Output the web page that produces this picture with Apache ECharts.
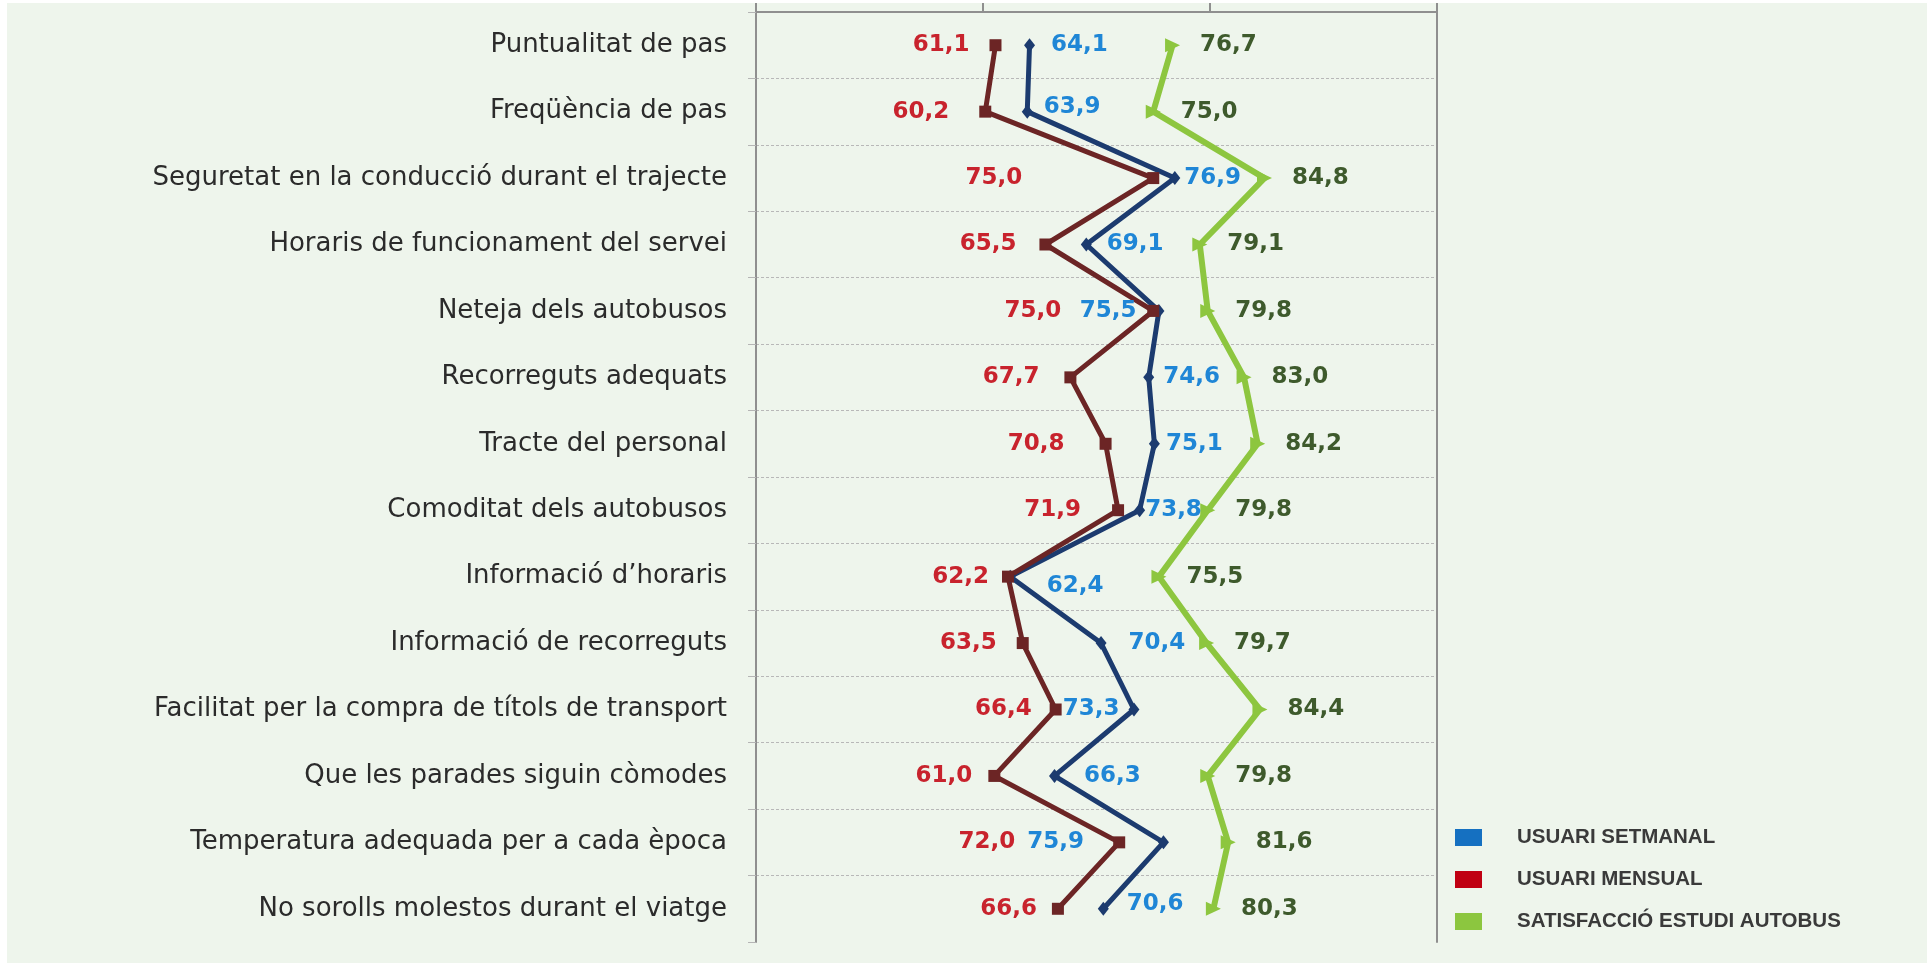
<!DOCTYPE html>
<html>
<head>
<meta charset="utf-8">
<script src="https://cdn.jsdelivr.net/npm/echarts@6.0.0/dist/echarts.min.js"></script>
<style>
    html, body { margin: 0; padding: 0; background: #ffffff; }
    #chart {
        position: absolute;
        left: 7px;
        top: 3px;
        width: 1920px;
        height: 960px;
        background: #eef5ec;
    }
</style>
</head>
<body>
<div id="chart"></div>
<script>
    // categories, top to bottom
    var categories = [
        'Puntualitat de pas',
        'Freqüència de pas',
        'Seguretat en la conducció durant el trajecte',
        'Horaris de funcionament del servei',
        'Neteja dels autobusos',
        'Recorreguts adequats',
        'Tracte del personal',
        'Comoditat dels autobusos',
        'Informació d’horaris',
        'Informació de recorreguts',
        'Facilitat per la compra de títols de transport',
        'Que les parades siguin còmodes',
        'Temperatura adequada per a cada època',
        'No sorolls molestos durant el viatge'
    ];
    var setmanal = [64.1, 63.9, 76.9, 69.1, 75.5, 74.6, 75.1, 73.8, 62.4, 70.4, 73.3, 66.3, 75.9, 70.6];
    var mensual = [61.1, 60.2, 75.0, 65.5, 75.0, 67.7, 70.8, 71.9, 62.2, 63.5, 66.4, 61.0, 72.0, 66.6];
    var estudi = [76.7, 75.0, 84.8, 79.1, 79.8, 83.0, 84.2, 79.8, 75.5, 79.7, 84.4, 79.8, 81.6, 80.3];
    var xTicks = [40, 60, 80, 100];

    // label placement (style only): gap from marker, negative = left side
    var mensualGap = [-20, -30, -125, -23, -86, -25, -35, -31, -13, -20, -18, -16, -98, -15];
    var setmanalGap = [16, 11, 4, 15, -17, 9, 6, 0, 31, 22, -9, 24, -74, 18];
    var setmanalDy = [0, -5, 0, 0, 0, 0, 0, 0, 9, 0, 0, 0, 0, -5];

    function fmt(p) {
        return p.value.toFixed(1).replace('.', ',');
    }

    function withLabels(values, gaps, dy) {
        return values.map(function (v, i) {
            var g = gaps[i];
            return {
                value: v,
                label: {
                    position: g < 0 ? 'left' : 'right',
                    distance: Math.abs(g),
                    offset: [0, dy ? dy[i] : 0]
                }
            };
        });
    }

    var labelFont = {
        show: true,
        formatter: fmt,
        fontFamily: 'DejaVu Sans',
        fontWeight: 'bold',
        fontSize: 23
    };

    var myChart = echarts.init(document.getElementById('chart'));
    var option = {
        animation: false,
        grid: {
            left: 749,
            right: 490,
            top: 9,
            bottom: 21
        },
        legend: {
            orient: 'vertical',
            left: 1448,
            top: 824,
            padding: 0,
            itemWidth: 27,
            itemHeight: 17,
            itemGap: 21,
            icon: 'rect',
            selectedMode: false,
            textStyle: {
                fontFamily: 'Liberation Sans',
                fontWeight: 'bold',
                fontSize: 20.5,
                lineHeight: 20,
                color: '#3a3a3a',
                padding: [0, 0, 0, 30]
            },
            data: [
                { name: 'USUARI SETMANAL', itemStyle: { color: '#1570c1' } },
                { name: 'USUARI MENSUAL', itemStyle: { color: '#c00012' } },
                { name: 'SATISFACCIÓ ESTUDI AUTOBUS', itemStyle: { color: '#8cc63f' } }
            ]
        },
        xAxis: {
            type: 'value',
            position: 'top',
            min: xTicks[0],
            max: xTicks[xTicks.length - 1],
            interval: 20,
            axisLine: {
                show: true,
                lineStyle: { color: '#8f8f8f', width: 2 }
            },
            axisTick: {
                show: true,
                length: 9,
                lineStyle: { color: '#8f8f8f', width: 2 }
            },
            axisLabel: { show: false },
            splitLine: { show: false }
        },
        yAxis: [
            {
                type: 'category',
                inverse: true,
                data: categories,
                axisLine: {
                    show: true,
                    lineStyle: { color: '#8f8f8f', width: 2 }
                },
                axisTick: {
                    show: true,
                    length: 8,
                    lineStyle: { color: '#b5b5b5', width: 1 }
                },
                axisLabel: {
                    margin: 29,
                    fontFamily: 'DejaVu Sans',
                    fontSize: 26,
                    color: '#2b2b2b'
                },
                splitLine: {
                    show: true,
                    showMinLine: false,
                    showMaxLine: false,
                    lineStyle: { color: '#b8b8b8', width: 1, type: [3, 2] }
                }
            },
            {
                type: 'category',
                inverse: true,
                position: 'right',
                data: categories,
                axisLine: {
                    show: true,
                    lineStyle: { color: '#8f8f8f', width: 2 }
                },
                axisTick: { show: false },
                axisLabel: { show: false },
                splitLine: { show: false }
            }
        ],
        series: [
            {
                name: 'SATISFACCIÓ ESTUDI AUTOBUS',
                type: 'line',
                yAxisIndex: 0,
                symbol: 'triangle',
                symbolSize: [14, 15],
                symbolRotate: -90,
                lineStyle: { color: '#8dc63f', width: 6 },
                itemStyle: { color: '#8dc63f' },
                label: Object.assign({}, labelFont, {
                    position: 'right',
                    distance: 20,
                    color: '#3e5a2c'
                }),
                data: estudi
            },
            {
                name: 'USUARI SETMANAL',
                type: 'line',
                yAxisIndex: 0,
                symbol: 'diamond',
                symbolSize: [11, 14],
                lineStyle: { color: '#1c3b6f', width: 5 },
                itemStyle: { color: '#1c3b6f' },
                label: Object.assign({}, labelFont, { color: '#1f86d6' }),
                data: withLabels(setmanal, setmanalGap, setmanalDy)
            },
            {
                name: 'USUARI MENSUAL',
                type: 'line',
                yAxisIndex: 0,
                symbol: 'rect',
                symbolSize: 12,
                lineStyle: { color: '#6c2525', width: 5 },
                itemStyle: { color: '#6c2525' },
                label: Object.assign({}, labelFont, { color: '#c8232d' }),
                data: withLabels(mensual, mensualGap)
            }
        ]
    };
    myChart.setOption(option);
</script>
</body>
</html>
